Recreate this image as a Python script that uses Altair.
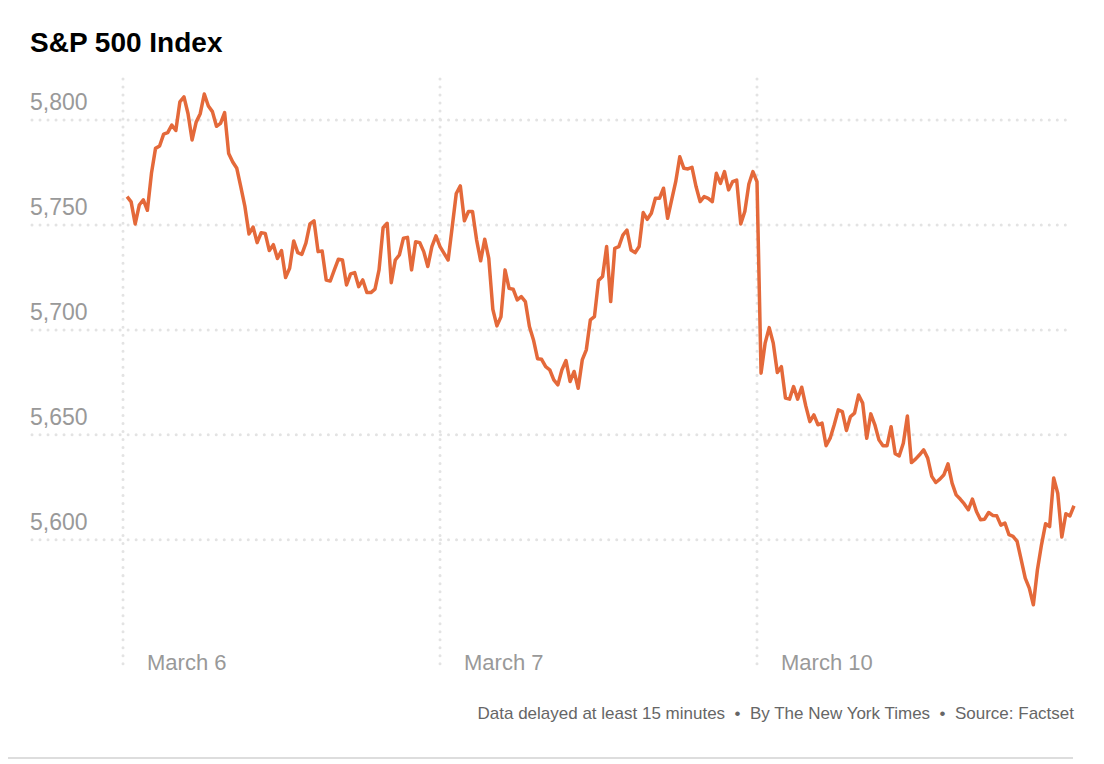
import altair as alt
import pandas as pd

# ---- data (5-minute S&P 500 levels) ----
day_labels = ["March 6", "March 7", "March 10"]

march6 = [5763.5, 5761, 5750.5, 5759.5, 5762, 5757, 5774.6, 5786.5, 5787.6, 5793.3,
          5794, 5797.6, 5795, 5808.7, 5811, 5803, 5790.5, 5799, 5803, 5812.4,
          5806.7, 5804, 5797, 5798.4, 5803.5, 5784, 5780, 5777, 5768, 5758.7,
          5745.7, 5749, 5741.6, 5746.3, 5746, 5737.8, 5740.6, 5734, 5737.8, 5725,
          5729.4, 5742.4, 5736.8, 5736, 5741.3, 5750.5, 5752, 5737.3, 5737.6, 5723.8,
          5723.3, 5728.6, 5733.7, 5733.3, 5721.4, 5726.7, 5727.3, 5720.6, 5723.8, 5717.8,
          5717.8, 5719.4, 5728.6, 5748.7, 5750.8, 5722.5, 5733.3, 5735.7, 5743.7, 5744.1,
          5728.6, 5742, 5741.6, 5737.3, 5730.2, 5739.7, 5744.8, 5739.7]

march7 = [5736.5, 5733.3, 5749, 5765, 5768.6, 5752, 5756.4, 5756.4, 5742.9, 5732.9,
          5743.2, 5734.1, 5709.8, 5701.9, 5706.3, 5728.6, 5719.8, 5719.4, 5714.3, 5715.9,
          5713.5, 5701.6, 5695.2, 5686.3, 5686, 5682.5, 5681, 5676.2, 5673.8, 5681,
          5685.4, 5675.4, 5680.2, 5672.2, 5685.7, 5690.5, 5704.8, 5706.3, 5723.5, 5725.4,
          5739.7, 5713.5, 5738.9, 5739.7, 5745.2, 5747.6, 5738.1, 5736.8, 5739.7, 5755.9,
          5752.7, 5755.6, 5762.7, 5762.7, 5767.5, 5753.2, 5761.9, 5770.6, 5782.5, 5777,
          5776.7, 5777.5, 5768.3, 5761.1, 5763.5, 5762.7, 5761.1, 5774.6, 5769.8, 5775.4,
          5766.7, 5770.6, 5771.4, 5750.5, 5756.4, 5769.5, 5775.4, 5770.6]

march10 = [5679.4, 5693.7, 5701.1, 5693.7, 5679.7, 5682.5, 5667.5, 5667, 5673, 5667,
           5672.7, 5663.8, 5656.3, 5659.5, 5654.8, 5655.6, 5644.8, 5648.4, 5654.8, 5661.9,
           5661.1, 5652.1, 5658.7, 5660.3, 5669, 5665.1, 5648.4, 5660, 5654.8, 5647.6,
           5644.8, 5644.8, 5653.9, 5641, 5640, 5646, 5659, 5636.8, 5638.4, 5640.5,
           5642.9, 5638.9, 5630.2, 5627.3, 5628.9, 5631, 5636.2, 5627, 5621.4, 5619.4,
           5617.1, 5614.3, 5619.4, 5613.5, 5609.5, 5609.8, 5613, 5611.6, 5611.4, 5607,
           5608, 5602.4, 5601.6, 5599.2, 5590.5, 5581.7, 5577, 5569, 5585.7, 5597.6,
           5607.6, 5606.3, 5629.4, 5622.2, 5601.3, 5612.4, 5611.4, 5616.2]

y_ticks = [5600, 5650, 5700, 5750, 5800]
y_tick_labels = ["5,600", "5,650", "5,700", "5,750", "5,800"]

title_text = "S&P 500 Index"
NB = "\u00a0"
footer_text = ("Data delayed at least 15 minutes" + NB * 2 + "\u2022" + NB * 2 +
               "By The New York Times" + NB * 2 + "\u2022" + NB * 2 + "Source: Factset")

# ---- tables ----
rows = []
for d, vals in enumerate([march6, march7, march10]):
    n = len(vals)
    for i, v in enumerate(vals):
        rows.append({"t": d + (i + 1) / n, "value": v})
line_df = pd.DataFrame(rows)
days_df = pd.DataFrame({"t": list(range(len(day_labels))), "label": day_labels})
ticks_df = pd.DataFrame({"value": y_ticks, "label": y_tick_labels})

W, H = 1044, 595
xscale = alt.Scale(domain=[-0.2934, 3.0], nice=False, zero=False)
yscale = alt.Scale(domain=[5537, 5820.5], nice=False, zero=False)

GRID = "#e3e3e3"
LABEL = "#999999"
FONT = "Liberation Sans"

hgrid = alt.Chart(ticks_df).mark_rule(
    color=GRID, strokeWidth=3, strokeDash=[0.01, 8], strokeCap="round"
).encode(
    y=alt.Y("value:Q", scale=yscale, axis=None),
    x=alt.value(2), x2=alt.value(W - 2),
)

ylabels = alt.Chart(ticks_df).mark_text(
    align="left", baseline="alphabetic", dy=-10, font=FONT, fontSize=23, color=LABEL
).encode(
    y=alt.Y("value:Q", scale=yscale, axis=None),
    x=alt.value(0),
    text="label:N",
)

vgrid = alt.Chart(days_df).mark_rule(
    color=GRID, strokeWidth=3, strokeDash=[0.01, 8], strokeCap="round"
).encode(
    x=alt.X("t:Q", scale=xscale, axis=None),
    y=alt.value(2), y2=alt.value(H - 2),
)

xlabels = alt.Chart(days_df).mark_text(
    align="left", baseline="alphabetic", dx=24, font=FONT, fontSize=22, color=LABEL
).encode(
    x=alt.X("t:Q", scale=xscale, axis=None),
    y=alt.value(H - 2),
    text="label:N",
)

line = alt.Chart(line_df).mark_line(
    color="#e4693a", strokeWidth=3.5, strokeJoin="round"
).encode(
    x=alt.X("t:Q", scale=xscale, axis=None),
    y=alt.Y("value:Q", scale=yscale, axis=None),
)

title = alt.Chart(pd.DataFrame({"label": [title_text]})).mark_text(
    align="left", baseline="alphabetic", font=FONT, fontSize=28, fontWeight="bold",
    color="#000000"
).encode(
    x=alt.value(0),
    y=alt.value(-25),
    text="label:N",
)

footer = alt.Chart(pd.DataFrame({"label": [footer_text]})).mark_text(
    align="right", baseline="alphabetic", font=FONT, fontSize=17, color="#666666"
).encode(
    x=alt.value(W),
    y=alt.value(H + 47),
    text="label:N",
)

bottom_rule = alt.Chart(pd.DataFrame({"label": ["rule"]})).mark_rule(
    color="#dddddd", strokeWidth=2
).encode(
    x=alt.value(-22), x2=alt.value(W - 1),
    y=alt.value(H + 86),
)

chart = alt.layer(hgrid, vgrid, ylabels, xlabels, line, title, footer, bottom_rule).properties(
    width=W, height=H,
    autosize=alt.AutoSizeParams(type="none"),
    padding={"left": 22, "top": 69, "right": 22, "bottom": 90},
).configure_view(stroke=None)

chart.save("out.html", embed_options={"renderer": "svg", "actions": False})
